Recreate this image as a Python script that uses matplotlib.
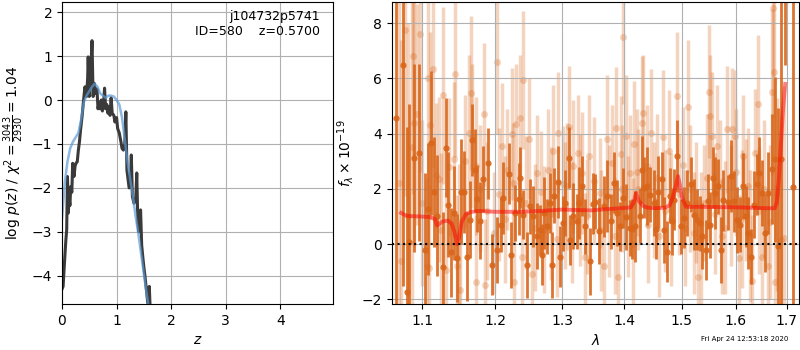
import numpy as np
import matplotlib
matplotlib.use('Agg')
import matplotlib.pyplot as plt
from matplotlib.ticker import NullLocator

# ---- p(z) panel data
z_pz = [0.0, 0.02, 0.05, 0.07, 0.086, 0.10, 0.116, 0.13, 0.145, 0.16, 0.18, 0.196,
        0.22, 0.24, 0.257, 0.28, 0.30, 0.32, 0.34, 0.37, 0.39, 0.42, 0.45, 0.47,
        0.48, 0.50, 0.53, 0.55, 0.57, 0.59, 0.62, 0.64, 0.66, 0.68, 0.70, 0.72,
        0.74, 0.76, 0.78, 0.80, 0.82, 0.84, 0.86, 0.88, 0.90, 0.92, 0.95, 0.97,
        1.0, 1.02, 1.05, 1.08, 1.10, 1.125, 1.15, 1.17, 1.19, 1.21, 1.23, 1.25,
        1.27, 1.29, 1.32, 1.35, 1.37, 1.39, 1.41, 1.44, 1.46, 1.48, 1.50, 1.52,
        1.55, 1.57, 1.59, 1.60, 1.62]
logpz = [-4.3, -4.24, -3.6, -3.2, -2.95, -1.74, -2.57, -2.2, -2.4, -1.97, -2.1, -1.44,
         -1.74, -1.5, -1.44, -1.4, -1.14, -0.95, -0.68, -0.35, -0.07, 0.3, 0.08, 0.5,
         0.98, 0.08, 0.76, 1.35, 0.08, 0.38, 0.15, 0.25, -0.2, -0.05, -0.2, 0.0,
         -0.25, -0.1, 0.27, -0.2, -0.1, -0.3, -0.15, -0.35, 0.05, -0.3, -0.35, -0.5,
         -0.4, -0.65, -0.75, -0.95, -1.1, -1.14, -1.0, -0.27, -1.6, -1.8, -2.0, -1.97,
         -1.25, -2.2, -2.35, -2.27, -1.66, -2.8, -3.0, -2.5, -3.3, -3.56, -3.8, -4.0,
         -4.35, -4.6, -4.7, -4.24, -4.9]

z_smooth = [0.0, 0.05, 0.1, 0.15, 0.2, 0.25, 0.3, 0.35, 0.4, 0.45, 0.5, 0.55, 0.6,
            0.65, 0.7, 0.75, 0.8, 0.85, 0.9, 0.95, 1.0, 1.05, 1.1, 1.15, 1.2, 1.25,
            1.3, 1.35, 1.4, 1.45, 1.5, 1.55, 1.6]
logp_smooth = [-2.7, -1.9, -1.4, -1.1, -0.95, -0.85, -0.75, -0.45, -0.05, 0.1, 0.2,
               0.3, 0.37, 0.3, 0.15, 0.1, 0.05, 0.1, 0.1, 0.08, 0.0, -0.1, -0.4,
               -0.9, -1.4, -1.8, -2.2, -2.65, -3.05, -3.5, -3.95, -4.4, -4.8]

# ---- spectrum panel data (binned)
wave_bin = [1.066, 1.075, 1.0796, 1.083, 1.089, 1.096, 1.1036, 1.108, 1.112, 1.116,
            1.119, 1.127, 1.131, 1.134, 1.138, 1.142, 1.147, 1.152, 1.156, 1.160,
            1.164, 1.168, 1.171, 1.174, 1.178, 1.183, 1.190, 1.1955, 1.203, 1.208,
            1.212, 1.220, 1.223, 1.229, 1.234, 1.2365, 1.240, 1.247, 1.251, 1.256,
            1.262, 1.266, 1.2685, 1.272, 1.276, 1.281, 1.284, 1.288, 1.293, 1.2966,
            1.301, 1.305, 1.310, 1.313, 1.3175, 1.323, 1.327, 1.332, 1.336, 1.344,
            1.3485, 1.352, 1.358, 1.366, 1.371, 1.378, 1.383, 1.388, 1.393, 1.3986,
            1.403, 1.409, 1.413, 1.418, 1.426, 1.430, 1.434, 1.438, 1.444, 1.450,
            1.4543, 1.4584, 1.4642, 1.4684, 1.473, 1.478, 1.482, 1.4866, 1.492, 1.498,
            1.503, 1.509, 1.5165, 1.521, 1.527, 1.532, 1.5366, 1.543, 1.547, 1.552,
            1.557, 1.561, 1.567, 1.572, 1.576, 1.584, 1.5905, 1.5955, 1.603, 1.608,
            1.6144, 1.620, 1.624, 1.629, 1.634, 1.640, 1.6455, 1.650, 1.657, 1.663,
            1.670, 1.6766, 1.683, 1.689, 1.697, 1.7135]
flux_bin = [4.55, 6.48, -1.75, 0.06, 3.13, 3.31, -0.21, 1.27, 3.67, 1.88,
            1.03, -0.84, 3.49, 1.43, -0.30, 1.13, -0.51, 1.89, 1.89, -0.45,
            0.88, 3.77, 2.68, 1.65, 0.85, 2.36, 2.92, -0.75, -0.21, 0.70,
            1.67, 2.55, -0.39, 1.13, 1.64, 2.40, 1.07, -0.75, 1.37, 1.0,
            0.28, 0.52, -0.39, 1.13, 0.64, 1.49, -0.75, 1.76, 2.24, -0.45,
            0.76, 1.49, 3.13, 0.16, 1.03, 0.82, 1.49, 2.10, 0.64, -0.63,
            1.47, 1.53, 0.48, 1.37, 1.73, 0.82, 2.22, 1.13, 0.64, 1.67,
            0.98, 0.58, 0.55, 0.64, 1.03, 2.70, 2.04, 2.10, 1.79, 1.49,
            0.55, 1.88, 2.34, 0.52, -0.27, 1.76, 0.82, 1.61, 3.19, 0.64,
            0.95, 1.49, 2.16, 1.07, 0.88, 0.76, 0.28, -0.21, 1.55, 0.70,
            2.40, 1.85, 2.10, -0.21, 1.58, 1.52, 2.46, 1.55, 0.88, 0.70,
            2.10, 1.0, 0.40, -0.45, 1.43, 2.16, 2.58, 1.85, 0.40, 1.85,
            2.73, 3.07, -0.06, 3.09, 12.0, 2.06]
err_bin = [9.0, 8.0, 6.0, 5.0, 3.4, 3.2, 2.8, 2.4, 2.6, 2.0,
           2.2, 2.0, 1.8, 1.9, 1.6, 1.7, 1.6, 1.9, 1.5, 1.6,
           1.4, 1.3, 1.5, 1.2, 1.4, 1.2, 1.3, 1.1, 1.2, 1.0,
           1.3, 1.1, 1.2, 1.0, 1.3, 1.1, 0.9, 1.2, 1.0, 1.1,
           1.2, 0.9, 1.1, 1.3, 1.0, 1.1, 1.2, 1.0, 1.3, 1.1,
           1.0, 1.2, 1.1, 0.9, 1.2, 1.0, 1.3, 1.1, 1.0, 1.2,
           1.1, 1.0, 1.2, 1.1, 1.3, 1.0, 1.1, 1.2, 0.9, 1.1,
           1.2, 1.0, 1.1, 1.3, 1.0, 1.2, 1.1, 1.4, 1.0, 1.2,
           1.1, 1.3, 1.0, 1.2, 1.1, 1.0, 1.2, 1.1, 1.3, 1.0,
           1.1, 1.2, 1.0, 1.3, 1.1, 1.0, 1.2, 1.1, 1.0, 1.2,
           1.1, 1.3, 1.0, 1.2, 1.1, 1.0, 1.3, 1.1, 1.2, 1.0,
           1.2, 1.1, 1.3, 1.0, 1.2, 1.1, 1.3, 1.2, 1.4, 1.5,
           2.0, 3.0, 5.0, 8.0, 5.5, 9.0]

# individual (unbinned) spectrum points
wave_raw = [1.0778, 1.0878, 1.097, 1.089, 1.0926, 1.1079, 1.1145, 1.1101, 1.128, 1.1443,
            1.1665, 1.1835, 1.163, 1.168, 1.1735, 1.142, 1.1217, 1.1058, 1.1093, 1.132,
            1.146, 1.1505, 1.1735, 1.186, 1.2033, 1.2095, 1.2166, 1.224, 1.231, 1.2363,
            1.240, 1.2496, 1.2386, 1.2277, 1.254, 1.2611, 1.2723, 1.2788, 1.2864, 1.2941,
            1.301, 1.3071, 1.3108, 1.3175, 1.3244, 1.3307, 1.336, 1.343, 1.360, 1.3672,
            1.3711, 1.3792, 1.3864, 1.3903, 1.3942, 1.3975, 1.4031, 1.41, 1.4172, 1.424,
            1.4298, 1.4327, 1.4384, 1.446, 1.4512, 1.4587, 1.4664, 1.4763, 1.4911, 1.5018,
            1.5101, 1.521, 1.5283, 1.5393, 1.5485, 1.5504, 1.5547, 1.564, 1.5733, 1.5826,
            1.592, 1.5983, 1.6059, 1.6144, 1.624, 1.6318, 1.637, 1.6435, 1.65, 1.6633,
            1.6699, 1.6752, 1.6732, 1.6766, 1.6882, 1.6949,
            1.100, 1.118, 1.125, 1.136, 1.150, 1.158, 1.178, 1.188, 1.198, 1.206,
            1.214, 1.226, 1.245, 1.258, 1.268, 1.283, 1.292, 1.304, 1.315, 1.328,
            1.340, 1.350, 1.362, 1.375, 1.384, 1.396, 1.407, 1.415, 1.422, 1.440,
            1.456, 1.470, 1.480, 1.495, 1.506, 1.515, 1.525, 1.535, 1.545, 1.560,
            1.570, 1.580, 1.590, 1.600, 1.612, 1.620, 1.628, 1.645, 1.655, 1.667,
            1.680, 1.070, 1.0725, 1.082, 1.086]
flux_raw = [7.76, 6.8, 7.61, 4.40, 4.70, 6.01, 6.34, 4.30, 5.39, 6.16,
            5.47, 4.70, 4.04, 3.92, 2.82, 3.07, 2.34, -0.81, -0.87, -0.93,
            -0.81, -1.66, -1.36, -1.48, 6.58, 3.55, 2.70, 3.98, 4.34, 4.55,
            5.94, 3.82, -0.45, -1.36, -1.08, 2.58, 0.52, 2.70, 3.37, 4.04,
            2.16, 2.10, 4.25, 2.82, 3.31, 2.58, -0.45, 3.19, 1.85, -0.81,
            3.82, 2.95, 4.22, -1.18, 3.25, 7.49, 3.92, 2.58, 3.61, 1.98,
            4.40, 4.76, 2.82, 4.04, 1.61, 0.28, 3.89, 3.37, 5.37, 2.88,
            4.98, 0.40, -1.18, 1.49, 5.52, 4.64, 3.92, 3.55, 0.28, 4.16,
            4.16, 3.90, -0.51, 3.19, 2.10, -1.33, 3.31, 5.09, -0.45, -0.81,
            5.52, 6.22, 8.55, -1.36, 0.16, 0.22,
            1.5, 2.5, 0.5, 2.8, 0.3, 3.0, 2.0, 1.2, 0.4, 1.8,
            0.9, 2.2, 1.5, 0.6, 1.9, 1.1, 0.2, 1.4, 0.8, 1.6,
            1.0, 2.3, 0.5, 1.2, 0.3, 2.0, 1.0, 0.0, 2.6, 0.7,
            2.4, 1.2, 0.9, 1.8, 0.6, 2.0, 1.5, 0.2, 2.4, 1.1,
            2.2, 0.6, 1.4, 2.6, 0.9, 1.6, 0.3, 1.2, 2.0, 0.8,
            1.8, 2.2, -0.6, 1.0, 3.5]
err_raw = [6.0, 5.0, 5.0, 4.5, 4.0, 4.0, 3.6, 3.4, 3.2, 3.0,
           2.8, 2.6, 2.8, 2.6, 2.5, 2.8, 3.0, 3.2, 3.0, 2.8,
           2.6, 2.6, 2.4, 2.4, 2.6, 2.3, 2.2, 2.4, 2.2, 2.3,
           2.5, 2.2, 2.3, 2.4, 2.2, 2.1, 2.3, 2.2, 2.4, 2.2,
           2.1, 2.3, 2.2, 2.4, 2.1, 2.2, 2.3, 2.2, 2.0, 2.2,
           2.3, 2.1, 2.2, 2.3, 2.1, 2.4, 2.2, 2.1, 2.3, 2.2,
           2.4, 2.1, 2.2, 2.3, 2.1, 2.2, 2.4, 2.2, 2.3, 2.1,
           2.4, 2.2, 2.3, 2.1, 2.4, 2.2, 2.3, 2.2, 2.1, 2.3,
           2.2, 2.4, 2.3, 2.2, 2.1, 2.4, 2.3, 2.5, 2.6, 2.8,
           3.0, 3.2, 4.0, 3.5, 4.5, 5.5,
           3.0, 2.6, 2.8, 2.5, 2.6, 2.4, 2.3, 2.5, 2.2, 2.4,
           2.3, 2.2, 2.4, 2.3, 2.2, 2.4, 2.1, 2.3, 2.2, 2.4,
           2.1, 2.3, 2.2, 2.4, 2.1, 2.3, 2.2, 2.4, 2.3, 2.1,
           2.3, 2.2, 2.4, 2.2, 2.1, 2.3, 2.2, 2.4, 2.3, 2.2,
           2.3, 2.4, 2.2, 2.3, 2.5, 2.2, 2.4, 2.3, 2.5, 2.8,
           3.5, 9.0, 8.0, 7.0, 6.0]

# model
wave_model = [1.0724, 1.080, 1.097, 1.110, 1.117, 1.1195, 1.127, 1.134, 1.139, 1.143,
              1.1466, 1.149, 1.153, 1.159, 1.167, 1.178, 1.20, 1.237, 1.267, 1.30,
              1.345, 1.361, 1.394, 1.411, 1.416, 1.420, 1.425, 1.432, 1.44, 1.453,
              1.47, 1.478, 1.484, 1.489, 1.4929, 1.496, 1.50, 1.5072, 1.53, 1.608,
              1.655, 1.676, 1.680, 1.684, 1.688, 1.692, 1.697]
flux_model = [1.13, 1.02, 1.0, 0.98, 0.9, 0.67, 0.82, 0.85, 0.75, 0.45,
              0.0, 0.2, 0.8, 1.1, 1.17, 1.2, 1.17, 1.17, 1.2, 1.25,
              1.22, 1.25, 1.3, 1.33, 1.5, 1.85, 1.55, 1.38, 1.32, 1.3,
              1.32, 1.4, 1.7, 2.1, 2.46, 2.2, 1.7, 1.35, 1.35, 1.33,
              1.3, 1.3, 1.5, 2.3, 3.5, 4.7, 5.8]

lam_ticks = [1.1, 1.2, 1.3, 1.4, 1.5, 1.6, 1.7]

orange = '#d9661a'

fig = plt.figure(figsize=(8, 3.5), dpi=100)
ax1 = fig.add_axes([0.0775, 0.1314, 0.339, 0.863])
ax2 = fig.add_axes([0.4896, 0.1314, 0.5095, 0.863])

# left: p(z)
ax1.plot(z_pz, logpz, color='#3a3a3a', lw=2.2)
ax1.plot(z_smooth, logp_smooth, color='#5b9bd5', lw=1.8, alpha=0.7)
ax1.set_xlim(0, 4.97)
ax1.set_ylim(-4.64, 2.23)
ax1.set_xticks([0, 1, 2, 3, 4])
ax1.grid()
ax1.set_xlabel(r'$z$')
ax1.set_ylabel(r'$\log\,p(z)$' + ' / ' + r'$\chi^2=\frac{3043}{2930}=1.04$')
ax1.text(0.95, 0.975, 'j104732p5741\nID=580    z=0.5700', ha='right', va='top',
         fontsize=9, transform=ax1.transAxes)

# right: spectrum
ax2.errorbar(wave_raw, flux_raw, yerr=err_raw, fmt='o', color=orange, alpha=0.28,
             ms=5, elinewidth=2.5, mec='none', zorder=1)
ax2.errorbar(wave_bin, flux_bin, yerr=err_bin, fmt='o', color=orange, alpha=0.9,
             ms=4.5, elinewidth=2.0, mec='none', zorder=2)
ax2.plot(wave_model, flux_model, color='r', lw=2.8, alpha=0.5, zorder=3)
ax2.axhline(0, color='k', ls=':', lw=1.5, zorder=4)

ax2.set_xscale('log')
ax2.set_xlim(1.0605, 1.7258)
ax2.set_ylim(-2.17, 8.77)
ax2.set_xticks(lam_ticks)
ax2.set_xticklabels(['%.1f' % t for t in lam_ticks])
ax2.xaxis.set_minor_locator(NullLocator())
ax2.grid()
ax2.set_xlabel(r'$\lambda$')
ax2.set_ylabel(r'$f_\lambda\times10^{-19}$')

fig.text(0.985, 0.022, 'Fri Apr 24 12:53:18 2020', ha='right', va='bottom', fontsize=5)

plt.savefig('out.png', dpi=100)
plt.close()
